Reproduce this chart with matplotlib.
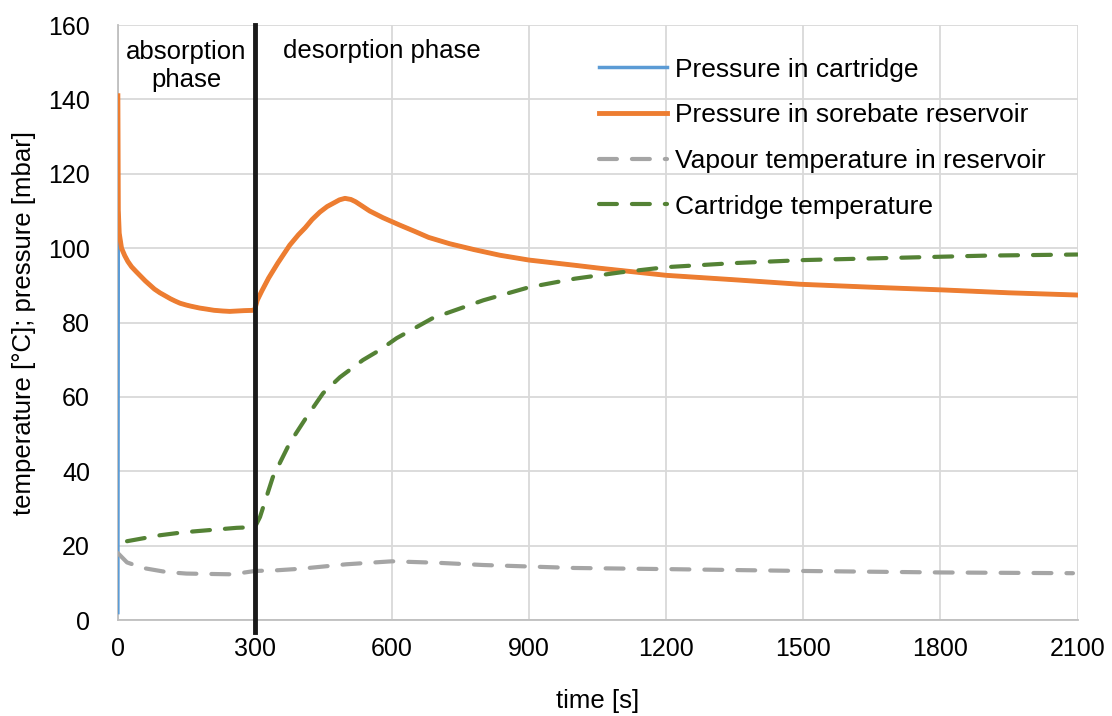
import matplotlib.pyplot as plt

plt.rcParams['font.family'] = ['Liberation Sans', 'DejaVu Sans']

# time axes [s] and values
p_time = [0, 1, 3, 8, 15, 22, 30, 40, 48, 60, 70, 80, 92, 105, 115, 125, 136, 150, 160, 179,
          195, 210, 230, 245, 260, 275, 299,
          305, 315, 330, 350, 376, 395, 410, 425, 442, 458, 470, 485, 497, 510, 520, 535, 551,
          580, 617, 650, 680, 726, 780, 836, 900,
          1000, 1055, 1200, 1350, 1493, 1650, 1800, 1950, 2100]
p_reservoir = [141, 110, 104, 100, 98, 96.4, 95, 93.7, 92.7, 91.2, 90.1, 89, 88, 87.1, 86.4, 85.8,
               85.2, 84.7, 84.4, 83.9, 83.6, 83.3, 83.1, 83, 83.1, 83.2, 83.3,
               86, 88.5, 92, 96, 100.8, 103.6, 105.5, 107.7, 109.7, 111.2, 112, 113, 113.4, 113.1,
               112.5, 111.3, 110, 108.2, 106.2, 104.5, 102.9, 101.2, 99.6, 98.1, 96.8,
               95.4, 94.6, 92.7, 91.5, 90.3, 89.5, 88.8, 88, 87.4]
p_cartridge = [2] + p_reservoir[1:]

vap_time = [0, 20, 55, 107, 150, 200, 250, 300, 350, 400, 500, 600, 700, 800, 900,
            1000, 1200, 1500, 1800, 2090]
vap_temp = [18, 15.5, 14, 12.9, 12.5, 12.4, 12.3, 13.2, 13.4, 13.8, 15, 15.8, 15.4, 14.8, 14.4,
            14, 13.7, 13.2, 12.8, 12.6]

cart_time = [20, 92, 143, 201, 260, 300, 311, 339, 376, 413, 449, 486, 536, 573, 610, 689,
             800, 900, 1000, 1100, 1200, 1350, 1500, 1700, 1900, 2100]
cart_temp = [21.2, 22.8, 23.6, 24.2, 24.8, 25, 27.7, 38.4, 47.6, 54.6, 61, 65.3, 69.9, 72.6, 75.8, 81.2,
             86, 89.5, 91.8, 93.5, 94.9, 96, 96.8, 97.4, 98, 98.3]

x_ticks = [0, 300, 600, 900, 1200, 1500, 1800, 2100]
y_ticks = [0, 20, 40, 60, 80, 100, 120, 140, 160]

fig = plt.figure(figsize=(11.12, 7.16), dpi=100)
ax = fig.add_axes([0.106, 0.134, 0.863, 0.831])

dash = (0, (4.3, 3.6))
ax.plot(p_time, p_cartridge, color='#5B9BD5', lw=2.5, zorder=3, label='Pressure in cartridge')
ax.plot(p_time, p_reservoir, color='#ED7D31', lw=3.5, zorder=3, label='Pressure in sorebate reservoir')
ax.plot(vap_time, vap_temp, color='#A5A5A5', lw=3, ls=dash, dash_capstyle='round', zorder=3,
        label='Vapour temperature in reservoir')
ax.plot(cart_time, cart_temp, color='#548235', lw=3, ls=dash, dash_capstyle='round', zorder=3,
        label='Cartridge temperature')
ax.axvline(300, color='#1a1a1a', lw=3.5, ymin=-0.02, clip_on=False, zorder=4)

ax.text(150, 149, 'absorption\nphase', ha='center', va='center', fontsize=18.5, linespacing=1.2)
ax.text(578, 153, 'desorption phase', ha='center', va='center', fontsize=18.5)

ax.set_xlim(0, 2100)
ax.set_ylim(0, 160)
ax.set_xticks(x_ticks)
ax.set_yticks(y_ticks)
ax.tick_params(length=0, labelsize=18, pad=12)
ax.tick_params(axis='y', pad=20)
ax.grid(color='#d9d9d9', lw=1.3)
ax.set_axisbelow(True)
for s in ['top', 'right']:
    ax.spines[s].set_visible(False)
for s in ['left', 'bottom']:
    ax.spines[s].set_color('#bfbfbf')
    ax.spines[s].set_linewidth(1.3)

ax.set_xlabel('time [s]', fontsize=18.5, labelpad=20)
ax.set_ylabel('temperature [°C]; pressure [mbar]', fontsize=18.5, labelpad=9)

ax.legend(loc='upper left', bbox_to_anchor=(0.477, 0.985), frameon=False, fontsize=19,
          handlelength=2.55, handletextpad=0.3, labelspacing=0.82)

fig.savefig('out.png', dpi=100)
